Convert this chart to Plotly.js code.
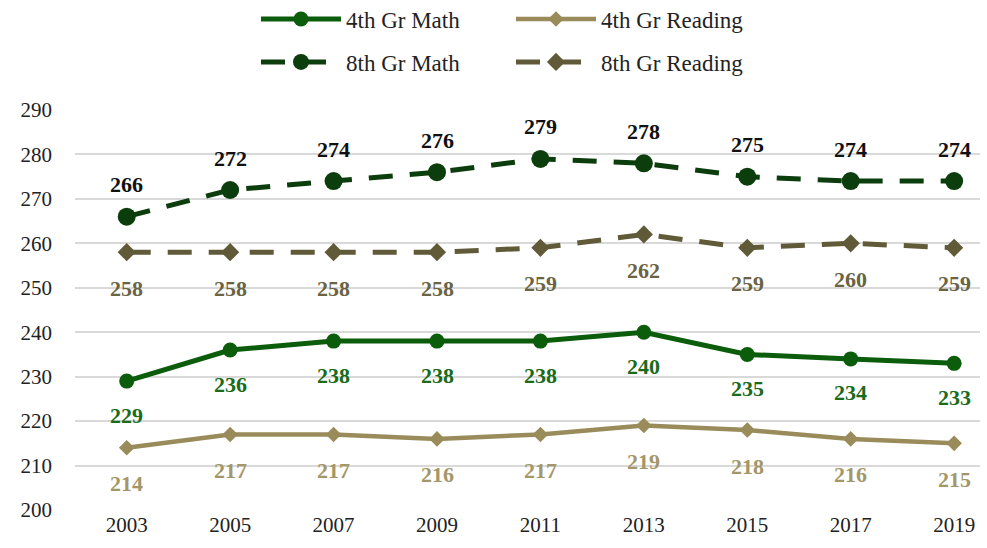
<!DOCTYPE html>
<html><head><meta charset="utf-8">
<script src="https://cdn.plot.ly/plotly-3.0.1.min.js"></script>
<style>html,body{margin:0;padding:0;background:#fff}#c{width:987px;height:548px}</style>
</head><body><div id="c"></div>
<script>
const years = ['2003','2005','2007','2009','2011','2013','2015','2017','2019'];
const math4 = [229,236,238,238,238,240,235,234,233];
const read4 = [214,217,217,216,217,219,218,216,215];
const math8 = [266,272,274,276,279,278,275,274,274];
const read8 = [258,258,258,258,259,262,259,260,259];
const seriesNames = ['4th Gr Math','4th Gr Reading','8th Gr Math','8th Gr Reading'];
const yTicks = [200,210,220,230,240,250,260,270,280,290];

const F = 'Liberation Serif, Times New Roman, serif';
const dash = '24px,17px';
const traces = [
  {x: years, y: math4, name: seriesNames[0], mode: 'lines+markers', legend: 'legend',
   line: {color: '#0b5c0b', width: 5}, marker: {symbol: 'circle', size: 15, color: '#0b5c0b'}},
  {x: years, y: read4, name: seriesNames[1], mode: 'lines+markers', legend: 'legend',
   line: {color: '#998c5a', width: 4.5}, marker: {symbol: 'diamond', size: 12, color: '#998c5a'}},
  {x: years, y: math8, name: seriesNames[2], mode: 'lines+markers', legend: 'legend2',
   line: {color: '#0c3d0c', width: 5, dash: dash}, marker: {symbol: 'circle', size: 18, color: '#0c3d0c'}},
  {x: years, y: read8, name: seriesNames[3], mode: 'lines+markers', legend: 'legend2',
   line: {color: '#605a38', width: 5, dash: dash}, marker: {symbol: 'diamond', size: 14, color: '#605a38'}}
];

function labels(vals, color, shift) {
  return vals.map((v, i) => ({xref: 'x', yref: 'y', x: i, y: v, text: '<b>' + v + '</b>', showarrow: false,
    yshift: shift, font: {family: F, size: 22, color: color}}));
}
const annotations = [].concat(
  labels(math4, '#1a6b1a', -34),
  labels(read4, '#a3976a', -36),
  labels(math8, '#111111', 32),
  labels(read8, '#6a6344', -36)
);

function legendAt(yc) {
  return {orientation: 'h', x: 0.2, xanchor: 'left', y: yc, yanchor: 'middle',
    xref: 'paper', yref: 'container', itemwidth: 80, entrywidth: 160, entrywidthmode: 'pixels',
    font: {family: F, size: 23, color: '#222'}, bgcolor: 'rgba(0,0,0,0)'};
}

const layout = {
  width: 987, height: 548,
  margin: {l: 75, r: 7, t: 110, b: 38},
  paper_bgcolor: '#fff', plot_bgcolor: '#fff',
  font: {family: F, size: 21, color: '#222'},
  showlegend: true,
  legend: legendAt(1 - 19 / 548),
  legend2: legendAt(1 - 62 / 548),
  xaxis: {type: 'category', range: [-0.5, 8.25], showgrid: false, zeroline: false,
    showline: false, ticks: '', tickfont: {family: F, size: 21, color: '#222'}},
  yaxis: {range: [200, 290], tickvals: yTicks, showgrid: true, gridcolor: '#d9d9d9', gridwidth: 2,
    zeroline: false, showline: false, ticks: '', ticklabelstandoff: 22,
    tickfont: {family: F, size: 21, color: '#222'}},
  annotations: annotations
};
Plotly.newPlot('c', traces, layout, {displayModeBar: false, staticPlot: true});
</script></body></html>
